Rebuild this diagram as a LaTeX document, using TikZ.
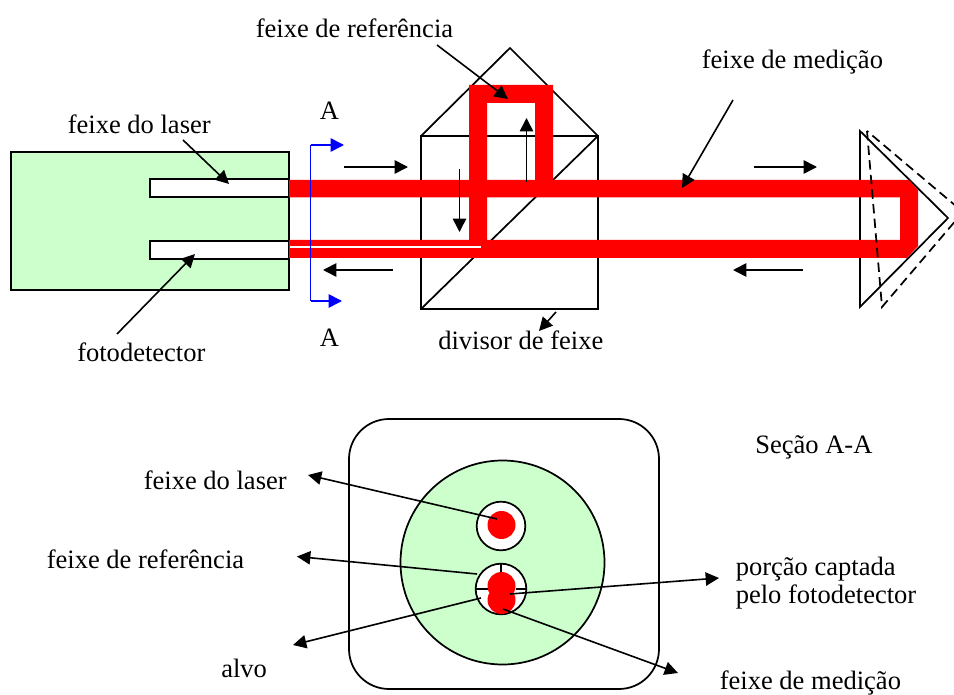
\documentclass[tikz,border=0pt]{standalone}
\usepackage{fontspec}
\setmainfont{Liberation Serif}
\usetikzlibrary{arrows.meta}
\definecolor{pale}{RGB}{204,255,204}
\tikzset{
  x=0.75pt,y=-0.75pt,
  lbl/.style={anchor=base west,inner sep=0pt,yshift=-1.1pt,font=\fontsize{19.9}{24}\selectfont},
  edge/.style={draw=black,line width=1.3pt},
  lead/.style={black,line width=1.2pt,-{Triangle[length=10pt,width=10pt]}},
  bluearrow/.style={blue,line width=1.2pt,-{Triangle[length=10pt,width=10pt]}},
  beam/.style={fill=red,draw=none},
  thin dash/.style={draw=black,line width=1.3pt,dash pattern=on 7pt off 4pt},
  spot/.style={fill=red,draw=none},
  ring/.style={draw=black,line width=1.3pt,fill=white,circle,inner sep=0pt},
}
\begin{document}
\begin{tikzpicture}
\useasboundingbox (0,0) rectangle (954,695);
% upper body
\node[edge,fill=pale,minimum width=208.5pt,minimum height=103.5pt,inner sep=0pt,anchor=north west] (body) at (10.2,151.2) {};
\node[edge,fill=white,minimum width=104.25pt,minimum height=13.5pt,inner sep=0pt,anchor=north west] (slotA) at (149.2,178.2) {};
\node[edge,fill=white,minimum width=104.25pt,minimum height=13.5pt,inner sep=0pt,anchor=north west] (slotB) at (149.2,240.2) {};
% cube and prism
\coordinate (cTL) at (421,136); \coordinate (cTR) at (598,136);
\coordinate (cBL) at (421,309); \coordinate (cBR) at (598,309);
\coordinate (apex) at (510,48);
\draw[edge] (cTL) -- (cTR) -- (cBR) -- (cBL) -- cycle;
\draw[edge] (cBL) -- (cTR);
\draw[edge] (cTL) -- (apex) -- (cTR);
% retro prism solid
\coordinate (pT) at (860,131); \coordinate (pB) at (860,307); \coordinate (pA) at (948,218);
\draw[edge,line join=miter] (pT) -- (pA) -- (pB) -- cycle;
% red beams
\fill[beam] (289,180) -- (909,180) -- (918,190) -- (918,246) -- (907,258) -- (289,258) -- (289,240) -- (900,240) -- (900,197.5) -- (289,197.5) -- cycle;
\fill[beam] (469,240) -- (469,85) -- (553,85) -- (553,181) -- (535,181) -- (535,103) -- (487,103) -- (487,240) -- cycle;
\fill[white] (290,246.5) rectangle (481,248.5);
% dashed prism, its tip runs off the page
\coordinate (qT) at (867,131); \coordinate (qB) at (882,307); \coordinate (qA) at (963,212);
\begin{scope}
\clip (0,0) rectangle (954,695);
\draw[thin dash] (qT) -- (qB) -- (qA) -- cycle;
\end{scope}
% section arrows
\coordinate (s1) at (310.5,145); \coordinate (s2) at (310.5,301);
\coordinate (s1e) at (344,145); \coordinate (s2e) at (342,301);
\draw[bluearrow] (s1) -- (s1e);
\draw[bluearrow] (s2) -- (s2e);
\draw[blue,line width=1.2pt] (s1) -- (s2);
% direction arrows
\coordinate (d1a) at (344,167); \coordinate (d1b) at (408,167);
\coordinate (d2a) at (393,270); \coordinate (d2b) at (323,270);
\coordinate (d3a) at (459.5,169); \coordinate (d3b) at (459.5,232);
\coordinate (d4a) at (526.5,182); \coordinate (d4b) at (526.5,118);
\coordinate (d5a) at (754,167); \coordinate (d5b) at (817,167);
\coordinate (d6a) at (803,270); \coordinate (d6b) at (733,270);
\foreach \p/\q in {d1a/d1b,d2a/d2b,d3a/d3b,d4a/d4b,d5a/d5b,d6a/d6b}{\draw[lead] (\p) -- (\q);}
% upper leaders
\coordinate (l1a) at (183,140); \coordinate (l1b) at (229,184);
\coordinate (l2a) at (117,334); \coordinate (l2b) at (195,254);
\coordinate (l3a) at (437,45); \coordinate (l3b) at (508,99);
\coordinate (l4a) at (733,100); \coordinate (l4b) at (682,188);
\coordinate (l5a) at (556,312); \coordinate (l5b) at (539,331);
\foreach \p/\q in {l1a/l1b,l2a/l2b,l3a/l3b,l4a/l4b,l5a/l5b}{\draw[lead] (\p) -- (\q);}
% upper labels
\node[lbl] (tLaser) at (67.5,132) {feixe do laser};
\node[lbl] (tFoto) at (77,360) {fotodetector};
\node[lbl] (tA1) at (319.5,118) {A};
\node[lbl] (tA2) at (319.5,345) {A};
\node[lbl] (tRef) at (255.5,36) {feixe de referência};
\node[lbl] (tMed) at (701.5,67) {feixe de medição};
\node[lbl] (tDiv) at (438,348) {divisor de feixe};
% section view
\draw[edge,rounded corners=30pt] (349,419) rectangle (659,689);
\node[circle,edge,fill=pale,minimum size=153pt,inner sep=0pt] (disc) at (502.5,562.5) {};
\node[ring,minimum size=36.5pt] (holeA) at (501,526) {};
\node[ring,minimum size=38pt] (holeB) at (501,589) {};
\fill[spot] (501.5,525) circle[radius=14];
\fill[spot] (501.5,586) circle[radius=14];
\fill[spot] (501.5,600) circle[radius=14];
\coordinate (v1) at (501,564); \coordinate (v2) at (501,572);
\coordinate (h1) at (476,589); \coordinate (h2) at (488,589);
\coordinate (h3) at (516,589); \coordinate (h4) at (526,589);
\draw[edge] (v1) -- (v2);
\draw[edge] (h1) -- (h2);
\draw[edge] (h3) -- (h4);
% section leaders
\coordinate (m1a) at (497,519); \coordinate (m1b) at (308,475);
\coordinate (m2a) at (477,574); \coordinate (m2b) at (297,556.5);
\coordinate (m3a) at (481,598); \coordinate (m3b) at (293,645);
\coordinate (m4a) at (510,594); \coordinate (m4b) at (719,578);
\coordinate (m5a) at (503,609); \coordinate (m5b) at (678,673);
\foreach \p/\q in {m1a/m1b,m2a/m2b,m3a/m3b,m4a/m4b,m5a/m5b}{\draw[lead] (\p) -- (\q);}
% section labels
\node[lbl] (tSec) at (755,452) {Seção A-A};
\node[lbl] (tLaser2) at (143.5,488) {feixe do laser};
\node[lbl] (tRef2) at (46.5,567) {feixe de referência};
\node[lbl] (tPor1) at (735.5,574) {porção captada};
\node[lbl] (tPor2) at (735.5,602) {pelo fotodetector};
\node[lbl] (tAlvo) at (221,676) {alvo};
\node[lbl] (tMed2) at (719.5,688.5) {feixe de medição};
\end{tikzpicture}
\end{document}
